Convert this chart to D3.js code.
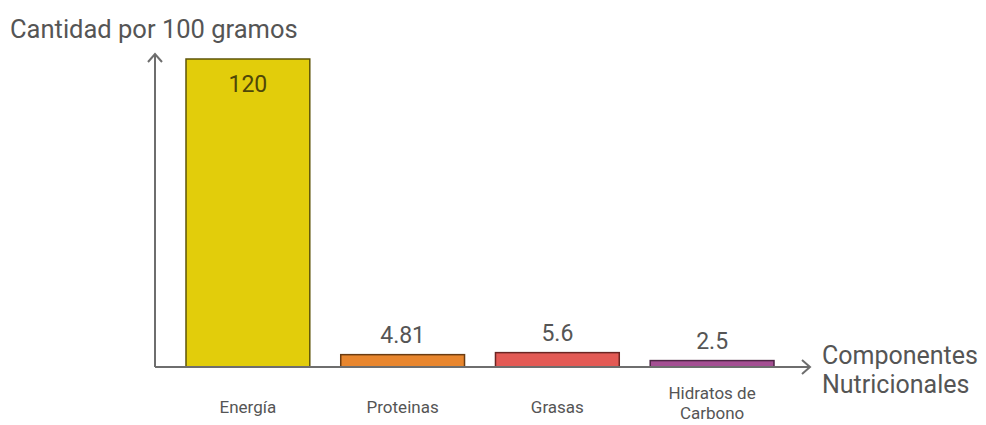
<!DOCTYPE html>
<html>
<head>
<meta charset="utf-8">
<script src="https://cdn.jsdelivr.net/npm/d3@7"></script>
<style>
  body { margin: 0; background: #fff; }
  svg { display: block; font-family: Roboto, "Open Sans", sans-serif; }
</style>
</head>
<body>
<div id="chart"></div>
<script>
// Nutritional values per 100 g
const categories = ["Energía", "Proteinas", "Grasas", "Hidratos de Carbono"];
const values = [120, 4.81, 5.6, 2.5];
const labels = ["120", "4.81", "5.6", "2.5"];
const fills = ["#e2cd0b", "#e8862e", "#e35a55", "#a44f93"];
const strokes = ["#5e5408", "#6b3c12", "#6b2523", "#4c2544"];

const width = 986, height = 425;
const margin = { top: 59, left: 155, right: 176, bottom: 58 };

const svg = d3.select("#chart")
  .append("svg")
    .attr("width", width)
    .attr("height", height);

const baseY = height - margin.bottom;

// Build scales
const xScale = d3.scaleBand()
  .domain(categories)
  .range([186, 774])
  .paddingInner(0.2)
  .paddingOuter(0);

const yScale = d3.scaleLinear()
  .domain([0, 120])
  .range([baseY, margin.top]);

// Bars
svg.selectAll("rect.bar")
  .data(categories)
  .enter()
  .append("rect")
    .attr("class", "bar")
    .attr("x", d => xScale(d))
    .attr("y", (d, i) => yScale(values[i]))
    .attr("width", xScale.bandwidth())
    .attr("height", (d, i) => baseY - yScale(values[i]))
    .style("fill", (d, i) => fills[i])
    .style("stroke", (d, i) => strokes[i])
    .style("stroke-width", 1.5);

// Value labels
svg.selectAll("text.value")
  .data(categories)
  .enter()
  .append("text")
    .attr("class", "value")
    .attr("x", d => xScale(d) + xScale.bandwidth() / 2)
    .attr("y", (d, i) => i === 0 ? yScale(values[i]) + 33 : yScale(values[i]) - 12)
    .attr("text-anchor", "middle")
    .style("font-size", "23px")
    .style("fill", (d, i) => i === 0 ? "#4f4708" : "#555")
    .text((d, i) => labels[i]);

// Category labels (wrapped on spaces when long)
svg.selectAll("text.cat")
  .data(categories)
  .enter()
  .append("text")
    .attr("class", "cat")
    .attr("text-anchor", "middle")
    .style("font-size", "17px")
    .style("fill", "#555")
    .each(function (d) {
      const x = xScale(d) + xScale.bandwidth() / 2;
      const lines = d === "Hidratos de Carbono" ? ["Hidratos de", "Carbono"] : [d];
      const y0 = lines.length > 1 ? 399 : 413;
      lines.forEach((l, k) => {
        d3.select(this).append("tspan")
          .attr("x", x)
          .attr("y", y0 + k * 20)
          .text(l);
      });
    });

// Axes with arrow heads
const axisColor = "#6e6e6e";
svg.append("line")
  .attr("x1", margin.left).attr("y1", baseY)
  .attr("x2", margin.left).attr("y2", 54)
  .style("stroke", axisColor).style("stroke-width", 2);
svg.append("path")
  .attr("d", `M${margin.left - 7},${62} L${margin.left},${54} L${margin.left + 7},${62}`)
  .style("fill", "none").style("stroke", axisColor).style("stroke-width", 2);

svg.append("line")
  .attr("x1", margin.left).attr("y1", baseY)
  .attr("x2", 810).attr("y2", baseY)
  .style("stroke", axisColor).style("stroke-width", 2);
svg.append("path")
  .attr("d", `M${802},${baseY - 7} L${810},${baseY} L${802},${baseY + 7}`)
  .style("fill", "none").style("stroke", axisColor).style("stroke-width", 2);

// Axis titles
svg.append("text")
  .attr("x", 10)
  .attr("y", 38)
  .style("font-size", "25.5px")
  .style("fill", "#555")
  .text("Cantidad por 100 gramos");

const xTitle = svg.append("text")
  .style("font-size", "25px")
  .style("fill", "#555");
xTitle.append("tspan").attr("x", 822).attr("y", 364).text("Componentes");
xTitle.append("tspan").attr("x", 822).attr("y", 393).text("Nutricionales");
</script>
</body>
</html>
